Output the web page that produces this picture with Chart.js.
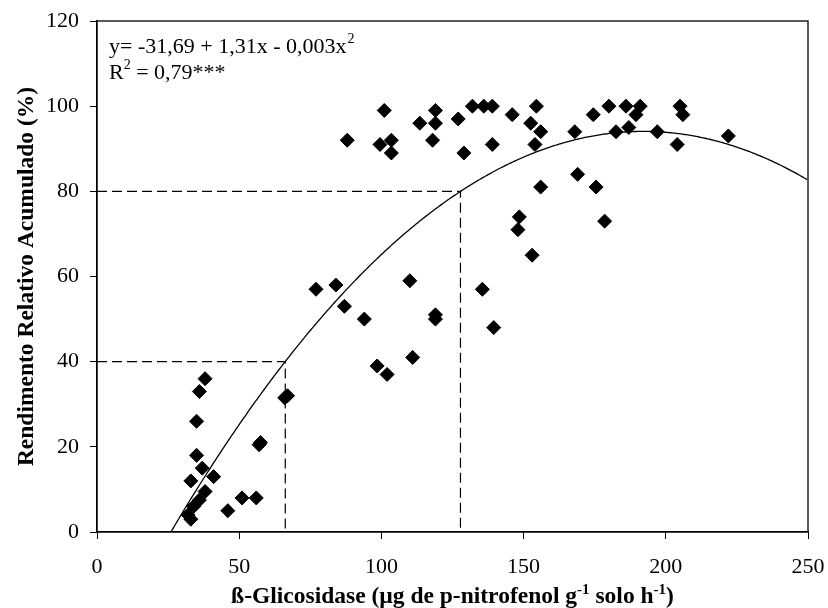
<!DOCTYPE html>
<html><head><meta charset="utf-8">
<script src="https://cdn.jsdelivr.net/npm/chart.js@4"></script>
<style>html,body{margin:0;padding:0;background:#fff}</style>
</head><body>
<canvas id="c" width="828" height="608"></canvas>
<script>
// Observed points: ß-Glicosidase (x) vs Rendimento Relativo Acumulado (y)
const xValues = [32, 33, 34, 36, 38, 33, 41, 37, 35, 35, 36, 38, 46, 51, 56, 57, 57.5, 66, 67,
  77, 84, 87, 94, 98.5, 102, 110, 111, 119, 119, 88, 99.5, 101, 103.5, 103.5, 113.5, 118, 119, 119, 127, 129, 132, 136, 139, 139, 135.5, 139.5,
  146, 148, 148.5, 153, 152.5, 154.5, 154, 156, 156, 168, 169, 174.5, 175.5, 178.5, 180, 182.5, 186, 187, 189.5, 191, 197, 204, 205, 206, 222];
const yValues = [4, 3, 6, 7.5, 9.5, 12, 13, 15, 18, 26, 33, 36, 5, 8, 8, 20.5, 21, 31.5, 32,
  57, 58, 53, 50, 39, 37, 59, 41, 51, 50, 92, 91, 99, 92, 89, 96, 92, 99, 96, 97, 89, 100, 100, 100, 91, 57, 48,
  98, 71, 74, 65, 96, 100, 91, 94, 81, 94, 84, 98, 81, 73, 100, 94, 100, 95, 98, 100, 94, 91, 100, 98, 93];
// Fitted quadratic (as drawn): y = a + b x + c x^2
const curveCoef = [-31.74, 1.31, -0.00341];
const curveXRange = [25.7, 250];
// Reference (dashed) levels and the x where the curve reaches them
const refY = [40, 80];
const refX = [66.2, 127.8];
const xTicks = [0, 50, 100, 150, 200, 250];
const yTicks = [0, 20, 40, 60, 80, 100, 120];
const eqLine1 = ['y= -31,69 + 1,31x - 0,003x', '2'];
const eqLine2 = ['R', '2', ' = 0,79***'];
const xTitleParts = [['ß-Glicosidase (µg de p-nitrofenol g', 0], ['-1', 1], [' solo h', 0], ['-1', 1], [')', 0]];
const yTitle = 'Rendimento Relativo Acumulado (%)';

const FONT = 'Liberation Serif';
const pts = xValues.map((x, i) => ({x, y: yValues[i]}));
const curve = [];
for (let x = curveXRange[0]; x <= curveXRange[1] + 1e-9; x += 0.5) {
  curve.push({x, y: curveCoef[0] + curveCoef[1] * x + curveCoef[2] * x * x});
}
const refSets = refY.map((ry, i) => ({
  data: [{x: 0, y: ry}, {x: refX[i], y: ry}, {x: refX[i], y: 0}],
  showLine: true, borderColor: '#000', borderWidth: 1.2, borderDash: [10, 5],
  pointRadius: 0, fill: false, order: 3
}));

const decor = {
  id: 'decor',
  afterDraw(chart) {
    const {ctx, chartArea: a} = chart;
    ctx.save();
    ctx.strokeStyle = '#000'; ctx.lineWidth = 1.3;
    ctx.strokeRect(a.left, a.top, a.right - a.left, a.bottom - a.top);
    ctx.fillStyle = '#000';
    // equation
    ctx.textBaseline = 'alphabetic'; ctx.textAlign = 'left';
    let x = 109, y = 53;
    ctx.font = '22px "' + FONT + '"';
    ctx.fillText(eqLine1[0], x, y);
    x += ctx.measureText(eqLine1[0]).width;
    ctx.font = '14px "' + FONT + '"';
    ctx.fillText(eqLine1[1], x + 1, y - 10);
    x = 109; y = 79;
    ctx.font = '22px "' + FONT + '"';
    ctx.fillText(eqLine2[0], x, y);
    x += ctx.measureText(eqLine2[0]).width;
    ctx.font = '14px "' + FONT + '"';
    ctx.fillText(eqLine2[1], x, y - 10);
    x += ctx.measureText(eqLine2[1]).width;
    ctx.font = '22px "' + FONT + '"';
    ctx.fillText(eqLine2[2], x, y);
    // x title with superscripts
    const big = 'bold 23.5px "' + FONT + '"', small = 'bold 15px "' + FONT + '"';
    let total = 0;
    xTitleParts.forEach(([t, s]) => { ctx.font = s ? small : big; total += ctx.measureText(t).width; });
    x = (a.left + a.right) / 2 - total / 2; y = 603;
    xTitleParts.forEach(([t, s]) => {
      ctx.font = s ? small : big;
      ctx.fillText(t, x, s ? y - 9 : y);
      x += ctx.measureText(t).width;
    });
    // y title
    ctx.translate(27, (a.top + a.bottom) / 2);
    ctx.rotate(-Math.PI / 2);
    ctx.font = big; ctx.textAlign = 'center'; ctx.textBaseline = 'middle';
    ctx.fillText(yTitle, 0, 0);
    ctx.restore();
  }
};

new Chart(document.getElementById('c'), {
  type: 'scatter',
  data: {
    datasets: [
      {data: pts, pointStyle: 'rectRot', pointRadius: 7, pointHoverRadius: 7,
       backgroundColor: '#000', borderColor: '#000', borderWidth: 1, order: 1},
      {data: curve, showLine: true, borderColor: '#000', borderWidth: 1.3, pointRadius: 0, fill: false, order: 2},
      ...refSets
    ]
  },
  options: {
    responsive: false, animation: false,
    layout: {padding: {left: 0, top: 21, right: 20, bottom: 0}},
    plugins: {legend: {display: false}, tooltip: {enabled: false}},
    scales: {
      x: {
        type: 'linear', min: 0, max: 250,
        afterBuildTicks: s => { s.ticks = xTicks.map(v => ({value: v})); },
        afterFit: s => { s.height = 76; s.paddingLeft = 0; s.paddingRight = 0; },
        grid: {drawOnChartArea: false, drawTicks: true, tickLength: 7, color: '#000', lineWidth: 1},
        border: {display: true, color: '#000', width: 1.3},
        ticks: {color: '#000', padding: 15, font: {family: FONT, size: 22}}
      },
      y: {
        type: 'linear', min: 0, max: 120,
        afterBuildTicks: s => { s.ticks = yTicks.map(v => ({value: v})); },
        afterFit: s => { s.width = 97; s.paddingTop = 0; s.paddingBottom = 0; },
        grid: {drawOnChartArea: false, drawTicks: true, tickLength: 7, color: '#000', lineWidth: 1},
        border: {display: true, color: '#000', width: 1.3},
        ticks: {color: '#000', padding: 11, font: {family: FONT, size: 22}}
      }
    }
  },
  plugins: [decor]
});
</script>
</body></html>
